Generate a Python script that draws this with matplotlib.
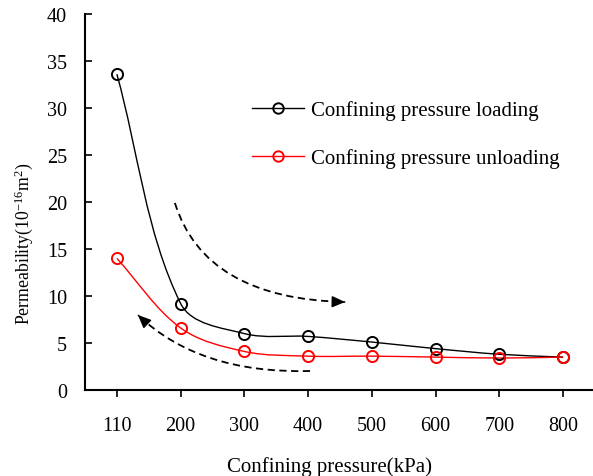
import numpy as np
import matplotlib
matplotlib.use("Agg")
import matplotlib.pyplot as plt
from matplotlib.path import Path
from matplotlib.patches import PathPatch

plt.rcParams['font.family'] = ['Liberation Serif', 'DejaVu Serif']
plt.rcParams['mathtext.fontset'] = 'custom'
plt.rcParams['mathtext.rm'] = 'Liberation Serif'
plt.rcParams['mathtext.default'] = 'regular'

pressure = ['110', '200', '300', '400', '500', '600', '700', '800']
loading = [33.6, 9.2, 6.0, 5.7, 5.1, 4.4, 3.8, 3.5]
unloading = [14.0, 6.6, 4.1, 3.6, 3.6, 3.5, 3.4, 3.5]


def smooth_path(xs, ys, sx=63.7, sy=9.4):
    # excel-like smoothed line: bezier with tangents scaled by chord length (screen units)
    p = np.column_stack([np.asarray(xs) * sx, np.asarray(ys) * sy]).astype(float)
    n = len(p)
    tang = []
    for i in range(n):
        d = p[min(i + 1, n - 1)] - p[max(i - 1, 0)]
        tang.append(d / np.hypot(*d))
    verts = [p[0]]
    codes = [Path.MOVETO]
    for i in range(n - 1):
        L = np.hypot(*(p[i + 1] - p[i])) / 3
        verts += [p[i] + tang[i] * L, p[i + 1] - tang[i + 1] * L, p[i + 1]]
        codes += [Path.CURVE4] * 3
    verts = np.array(verts) / [sx, sy]
    return Path(verts, codes)


fig = plt.figure(figsize=(5.93, 4.77), dpi=100)
ax = fig.add_axes([85 / 593, 86 / 477, 510 / 593, 376 / 477])

x = np.arange(len(pressure))
for vals, col, lab in [(loading, 'black', 'Confining pressure loading'),
                       (unloading, '#ff0000', 'Confining pressure unloading')]:
    ax.add_patch(PathPatch(smooth_path(x, vals), fill=False, edgecolor=col, lw=1.0))
    ax.plot(x, vals, ls='none', marker='o', ms=8, mfc='none', mec=col, mew=1.4)
    ax.plot([], [], color=col, lw=1.0, marker='o', ms=7.5, mfc='none', mec=col,
            mew=1.4, label=lab)

# dashed direction arrows
for p0, p1, p2 in [((0.91, 19.9), (1.38, 9.7), (3.58, 9.36)),
                   ((3.03, 2.02), (1.30, 1.70), (0.33, 7.98))]:
    ax.add_patch(PathPatch(Path([p0, p1, p2], [Path.MOVETO, Path.CURVE3, Path.CURVE3]),
                           fill=False, edgecolor='black', lw=1.3, ls=(0, (4, 2.5))))
    d = np.array(p2) - np.array(p1)
    tail = np.array(p2) - d / np.hypot(d[0] / 0.0157, d[1] / 0.106) * 0.5
    ax.annotate('', xy=p2, xytext=tail,
                arrowprops=dict(arrowstyle='-|>,head_length=0.8,head_width=0.35',
                                color='black', lw=1.0, shrinkA=0, shrinkB=0))

ax.set_xlim(-0.5, 7.5)
ax.set_ylim(0, 40)
ax.set_xticks(x)
ax.set_xticklabels(pressure)
ax.set_yticks(range(0, 45, 5))
ax.spines['top'].set_visible(False)
ax.spines['right'].set_visible(False)
ax.spines['left'].set_linewidth(1.5)
ax.spines['bottom'].set_linewidth(1.5)
ax.tick_params(axis='x', direction='out', length=5, width=1.2, pad=14, labelsize=14.5)
ax.tick_params(axis='y', direction='in', length=5, width=1.2, pad=13, labelsize=14.5)

ax.set_xlabel('Confining pressure(kPa)', fontsize=15)
ax.xaxis.set_label_coords(0.48, -0.176)
ax.set_ylabel('Permeability(10$^{-16}$m$^{2}$)', fontsize=12.8)
ax.yaxis.set_label_coords(-0.098, 0.39)

ax.legend(loc='center left', bbox_to_anchor=(252 / 593, 1 - 135 / 477),
          bbox_transform=fig.transFigure, frameon=False, fontsize=15,
          handlelength=2.5, handletextpad=0.35, labelspacing=1.35,
          borderpad=0, borderaxespad=0)

fig.savefig('out.png', dpi=100)
